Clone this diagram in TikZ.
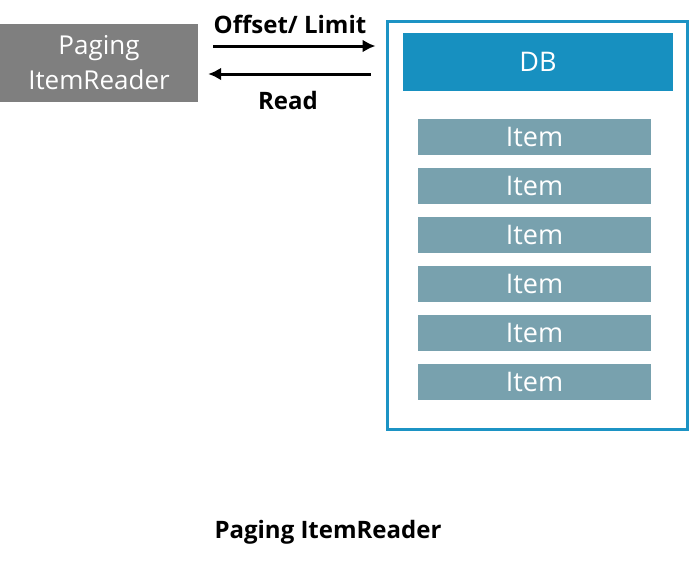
\documentclass[tikz,border=0pt]{standalone}
\usepackage{fontspec}
\setsansfont{Open Sans}
\usepackage{tikz}
\usetikzlibrary{positioning}
\usetikzlibrary{arrows.meta}

\definecolor{readergray}{HTML}{7F7F7F}
\definecolor{dbblue}{HTML}{1790C0}
\definecolor{framblue}{HTML}{1C93C4}
\definecolor{itemteal}{HTML}{78A1AE}

\begin{document}
\begin{tikzpicture}[
    x = 1pt,
    y = -1pt,
    font = \sffamily,
    readerf/.style = {
      rectangle,
      fill=readergray,
      text=white,
      align=center,
      inner sep=0pt,
      minimum width=198pt,
      minimum height=78pt,
      font=\sffamily\fontsize{26}{35}\selectfont
    },
    dbf/.style = {
      rectangle,
      fill=dbblue,
      text=white,
      inner sep=0pt,
      minimum width=270pt,
      minimum height=58pt,
      font=\sffamily\fontsize{27}{32}\selectfont
    },
    itemf/.style = {
      rectangle,
      fill=itemteal,
      text=white,
      inner sep=0pt,
      minimum width=233pt,
      minimum height=36pt,
      font=\sffamily\fontsize{27}{30}\selectfont
    },
    framef/.style = {
      rectangle,
      draw=framblue,
      line width=3pt,
      inner sep=0pt,
      minimum width=299.5pt,
      minimum height=408pt
    },
    labela/.style = {
      font=\sffamily\bfseries\fontsize{24}{28}\selectfont
    },
    flow/.style = {
      line width=3pt,
      -{Latex[length=13pt,width=13pt]}
    }
  ]
    \useasboundingbox (0,0) rectangle (690,563);

    \node[readerf] (reader) at (99,63) {Paging\\ItemReader};
    \node[framef] (store) at (537.25,225.5) {};
    \node[dbf] (db) at (538,62) {DB};

    \foreach \i in {0,...,5}
      \node[itemf] (item\i) at (534.5,137+49*\i) {Item};

    \draw[flow, shorten <=15pt, shorten >=10.5pt]
      ([yshift=17pt]reader.east) -- ([yshift=17pt]reader.east -| store.west);
    \draw[flow, shorten <=15.5pt, shorten >=10pt]
      ([yshift=-11pt]reader.east -| store.west) -- ([yshift=-11pt]reader.east);

    \node[labela] (offs) at (290,24) {Offset/ Limit};
    \node[labela] (read) at (288,100) {Read};

    \node[labela] (caption) at (328,532) {Paging ItemReader};

  \end{tikzpicture}
\end{document}
